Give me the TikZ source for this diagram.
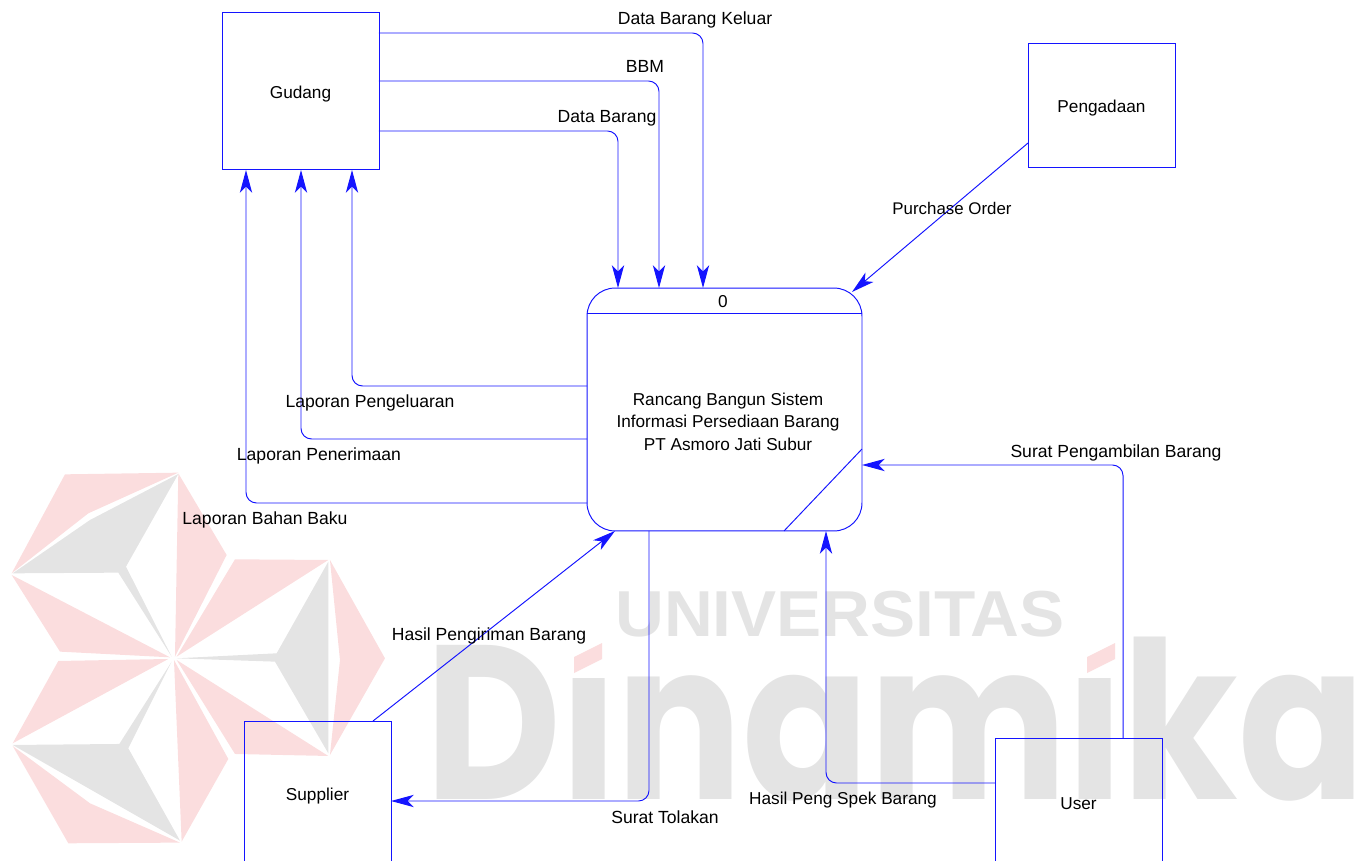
\documentclass[tikz,border=0pt]{standalone}
\usepackage{fontspec}
\setmainfont{Liberation Sans}
\newfontfamily\logofont{Poppins}
\usetikzlibrary{arrows.meta}
\definecolor{flowblue}{RGB}{20,20,255}
\definecolor{logopink}{RGB}{251,221,222}
\definecolor{logogray}{RGB}{228,228,228}
\begin{document}
\begin{tikzpicture}[x=0.02cm,y=-0.02cm, every node/.style={font=\fontsize{9.8}{12.75}\selectfont,inner sep=0pt,outer sep=0pt},
  entity/.style={draw=flowblue,line width=0.55pt,text height=10.5pt,text depth=2pt},
  flow/.style={draw=flowblue,line width=0.55pt,rounded corners=6pt,-{Stealth[length=13pt,width=7pt,inset=3.5pt]}},
  lbl/.style={font=\fontsize{10}{12}\selectfont},
  petal/.style={fill=logopink,draw=none},
  blade/.style={fill=logogray,draw=none}]
\clip (0,0) rectangle (1365,861);
% logo behind the diagram
\begin{scope}[shift={(0,460)},scale=0.3333]
\fill[petal] (195,43)--(535,38)--(265,160)--(35,340)--cycle;
\fill[blade] (535,42)--(378,320)--(515,590)--(355,338)--(38,340)--(270,180)--cycle;
\fill[petal] (35,345)--(510,592)--(180,575)--cycle;
\fill[petal] (535,40)--(680,285)--(525,590)--cycle;
\fill[petal] (705,298)--(985,300)--(530,590)--cycle;
\fill[blade] (985,305)--(830,580)--(530,595)--(825,605)--(985,880)--cycle;
\fill[petal] (990,300)--(1155,595)--(990,885)--(1020,600)--cycle;
\fill[petal] (530,600)--(985,888)--(705,882)--cycle;
\fill[petal] (175,603)--(505,597)--(38,850)--cycle;
\fill[blade] (38,855)--(358,852)--(515,605)--(385,865)--(540,1142)--cycle;
\fill[petal] (38,858)--(270,1030)--(540,1148)--(205,1150)--cycle;
\fill[petal] (522,600)--(685,897)--(545,1145)--cycle;
\end{scope}
\node[text=logogray,font=\fontsize{37}{37}\selectfont\bfseries,xscale=1.04] (univ) at (840,614) {UNIVERSITAS};
\node[text=logogray,font=\logofont\bfseries\fontsize{125}{125}\selectfont,anchor=base west,xscale=0.852] (dinamika) at (425,799) {Dinamika};
% i dots of the logo word
\fill[white] (560,615) rectangle (618,678);
\fill[white] (1074,615) rectangle (1124,678);
\fill[logopink] (574,657)--(602,643)--(602,659)--(574,673)--cycle;
\fill[logopink] (1087,657)--(1115,643)--(1115,659)--(1087,673)--cycle;
% entities
\node[entity,minimum width=3.14cm,minimum height=3.16cm] (gudang) at (300.5,91) {Gudang};
\node[entity,minimum width=2.94cm,minimum height=2.48cm] (pengadaan) at (1101.5,105) {Pengadaan};
\node[entity,minimum width=2.94cm,minimum height=2.88cm] (supplier) at (317.5,793) {Supplier};
\node[entity,minimum width=3.34cm,minimum height=2.56cm] (user) at (1078.5,802) {User};
% process
\node[draw=flowblue,line width=0.55pt,rounded corners=16pt,minimum width=5.5cm,minimum height=4.86cm] (proc) at (724.5,409.5) {};
\node (procid) at (723,302) {0};
\node[align=center] (proctext) at (728,421.5) {Rancang Bangun Sistem\\Informasi Persediaan Barang\\PT Asmoro Jati Subur};
\draw[draw=flowblue,line width=0.55pt] (proc.west |- 0,313) -- (proc.east |- 0,313);
\draw[draw=flowblue,line width=0.55pt] (proc.east |- 0,449) -- (784,0 |- proc.south);
% flows
\draw[flow] (gudang.east |- 0,33) -- (703,33) -- (703,0 |- proc.north);
\draw[flow] (gudang.east |- 0,81) -- (659,81) -- (659,0 |- proc.north);
\draw[flow] (gudang.east |- 0,131) -- (618,131) -- (618,0 |- proc.north);
\draw[flow] (proc.west |- 0,386) -- (352,386) -- (352,0 |- gudang.south);
\draw[flow] (proc.west |- 0,439) -- (301,439) -- (301,0 |- gudang.south);
\draw[flow] (proc.west |- 0,503) -- (246,503) -- (246,0 |- gudang.south);
\draw[flow] (pengadaan.west |- 0,143) -- (852,292);
\draw[flow] (373,0 |- supplier.north) -- (615,0 |- proc.south);
\draw[flow] (649,0 |- proc.south) -- (649,801) -- (supplier.east |- 0,801);
\draw[flow] (user.west |- 0,783) -- (826,783) -- (826,0 |- proc.south);
\draw[flow] (1123,0 |- user.north) -- (1123,465) -- (proc.east |- 0,465);
% flow labels
\node[lbl] (lblkeluar) at (695,20) {Data Barang Keluar};
\node[lbl] (lblbbm) at (645,66) {BBM};
\node[lbl] (lblbarang) at (607,118) {Data Barang};
\node[font=\fontsize{9.6}{12}\selectfont] (lblpo) at (952,208) {Purchase Order};
\node[lbl] (lblpengeluaran) at (370,403) {Laporan Pengeluaran};
\node[lbl] (lblpenerimaan) at (319,456) {Laporan Penerimaan};
\node[lbl] (lblbaku) at (265,520) {Laporan Bahan Baku};
\node[lbl] (lblambil) at (1116,453) {Surat Pengambilan Barang};
\node[lbl] (lblkirim) at (489,636) {Hasil Pengiriman Barang};
\node[lbl] (lbltolak) at (665,817) {Surat Tolakan};
\node (lblspek) at (843,800) {Hasil Peng Spek Barang};
\end{tikzpicture}
\end{document}
